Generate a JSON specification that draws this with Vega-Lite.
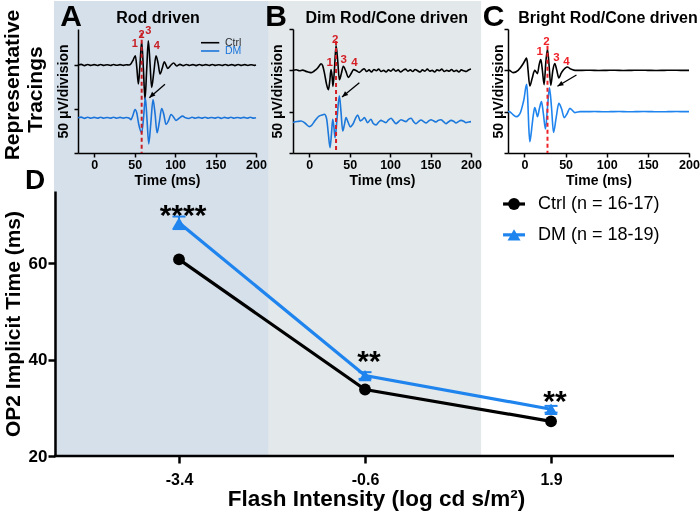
{
 "$schema": "https://vega.github.io/schema/vega-lite/v6.json",
 "background": "white",
 "padding": 0,
 "bounds": "flush",
 "spacing": 162,
 "config": {
  "view": {"stroke": null},
  "font": "Liberation Sans",
  "axis": {"grid": false, "zindex": 1, "domainColor": "#000000", "tickColor": "#000000", "labelColor": "#000000", "titleColor": "#000000", "labelFontWeight": "bold", "titleFontWeight": "bold", "labelFlush": false, "labelOverlap": false}
 },
 "datasets": {
  "ta": [
   {"s":"Ctrl","t":-20,"v":100},{"s":"Ctrl","t":-16,"v":100.8},{"s":"Ctrl","t":-12,"v":99.4},{"s":"Ctrl","t":-8,"v":100.6},{"s":"Ctrl","t":-4,"v":99.6},{"s":"Ctrl","t":0,"v":100.5},{"s":"Ctrl","t":4,"v":99.5},{"s":"Ctrl","t":8,"v":100.7},{"s":"Ctrl","t":12,"v":99.6},{"s":"Ctrl","t":16,"v":100.4},{"s":"Ctrl","t":20,"v":99.5},{"s":"Ctrl","t":24,"v":100.6},{"s":"Ctrl","t":28,"v":99.7},{"s":"Ctrl","t":32,"v":100.5},{"s":"Ctrl","t":36,"v":99.6},{"s":"Ctrl","t":40,"v":100.4},{"s":"Ctrl","t":43,"v":100},{"s":"Ctrl","t":45.5,"v":101.5},{"s":"Ctrl","t":48.3,"v":106},{"s":"Ctrl","t":50.9,"v":110.6},{"s":"Ctrl","t":52.8,"v":96},{"s":"Ctrl","t":54.6,"v":78.4},{"s":"Ctrl","t":56.6,"v":100},{"s":"Ctrl","t":58.7,"v":126.5},{"s":"Ctrl","t":60.8,"v":96},{"s":"Ctrl","t":62.8,"v":61.3},{"s":"Ctrl","t":64.9,"v":95},{"s":"Ctrl","t":66.9,"v":127.7},{"s":"Ctrl","t":69,"v":102},{"s":"Ctrl","t":71,"v":74.6},{"s":"Ctrl","t":73.7,"v":92},{"s":"Ctrl","t":76.4,"v":110.6},{"s":"Ctrl","t":79,"v":102},{"s":"Ctrl","t":81.4,"v":89.8},{"s":"Ctrl","t":84,"v":96},{"s":"Ctrl","t":86.7,"v":103.8},{"s":"Ctrl","t":88.8,"v":100},{"s":"Ctrl","t":90.8,"v":96.2},{"s":"Ctrl","t":94.5,"v":99.5},{"s":"Ctrl","t":98.2,"v":102.3},{"s":"Ctrl","t":102,"v":99},{"s":"Ctrl","t":106,"v":100.8},{"s":"Ctrl","t":110,"v":99.3},{"s":"Ctrl","t":114,"v":100.6},{"s":"Ctrl","t":118,"v":99.5},{"s":"Ctrl","t":122,"v":100.5},{"s":"Ctrl","t":126,"v":99.4},{"s":"Ctrl","t":130,"v":100.6},{"s":"Ctrl","t":134,"v":99.6},{"s":"Ctrl","t":138,"v":100.5},{"s":"Ctrl","t":142,"v":99.5},{"s":"Ctrl","t":146,"v":100.7},{"s":"Ctrl","t":150,"v":99.6},{"s":"Ctrl","t":154,"v":100.4},{"s":"Ctrl","t":158,"v":99.5},{"s":"Ctrl","t":162,"v":100.6},{"s":"Ctrl","t":166,"v":99.5},{"s":"Ctrl","t":170,"v":100.5},{"s":"Ctrl","t":174,"v":99.4},{"s":"Ctrl","t":178,"v":100.6},{"s":"Ctrl","t":182,"v":99.6},{"s":"Ctrl","t":186,"v":100.5},{"s":"Ctrl","t":190,"v":99.5},{"s":"Ctrl","t":194,"v":100.4},{"s":"Ctrl","t":198,"v":99.6},{"s":"Ctrl","t":200,"v":100},
   {"s":"DM","t":-20,"v":40},{"s":"DM","t":-16,"v":40.8},{"s":"DM","t":-12,"v":39.4},{"s":"DM","t":-8,"v":40.6},{"s":"DM","t":-4,"v":39.5},{"s":"DM","t":0,"v":40.5},{"s":"DM","t":4,"v":39.6},{"s":"DM","t":8,"v":40.7},{"s":"DM","t":12,"v":39.5},{"s":"DM","t":16,"v":40.4},{"s":"DM","t":20,"v":39.6},{"s":"DM","t":24,"v":40.6},{"s":"DM","t":28,"v":39.5},{"s":"DM","t":32,"v":40.5},{"s":"DM","t":36,"v":39.6},{"s":"DM","t":40,"v":40.4},{"s":"DM","t":43.5,"v":39.5},{"s":"DM","t":45.5,"v":38},{"s":"DM","t":47.6,"v":42},{"s":"DM","t":50.5,"v":49.5},{"s":"DM","t":52.5,"v":46},{"s":"DM","t":55,"v":33},{"s":"DM","t":58.7,"v":23},{"s":"DM","t":61,"v":40},{"s":"DM","t":63.2,"v":62.7},{"s":"DM","t":65.3,"v":38},{"s":"DM","t":67.4,"v":10.4},{"s":"DM","t":70,"v":34},{"s":"DM","t":72.7,"v":60.8},{"s":"DM","t":75.2,"v":45},{"s":"DM","t":77.7,"v":23},{"s":"DM","t":80.5,"v":35},{"s":"DM","t":83.4,"v":50.6},{"s":"DM","t":86,"v":44},{"s":"DM","t":88.8,"v":32.4},{"s":"DM","t":92,"v":37},{"s":"DM","t":95,"v":43.8},{"s":"DM","t":98,"v":41},{"s":"DM","t":101.1,"v":37},{"s":"DM","t":105,"v":39.5},{"s":"DM","t":109.3,"v":41.9},{"s":"DM","t":113,"v":40},{"s":"DM","t":117,"v":39.3},{"s":"DM","t":121,"v":40.6},{"s":"DM","t":125,"v":39.5},{"s":"DM","t":129,"v":40.5},{"s":"DM","t":133,"v":39.6},{"s":"DM","t":137,"v":40.6},{"s":"DM","t":141,"v":39.5},{"s":"DM","t":145,"v":40.4},{"s":"DM","t":149,"v":39.6},{"s":"DM","t":153,"v":40.6},{"s":"DM","t":157,"v":39.4},{"s":"DM","t":161,"v":40.5},{"s":"DM","t":165,"v":39.6},{"s":"DM","t":169,"v":40.6},{"s":"DM","t":173,"v":39.5},{"s":"DM","t":177,"v":40.4},{"s":"DM","t":181,"v":39.6},{"s":"DM","t":185,"v":40.5},{"s":"DM","t":189,"v":39.5},{"s":"DM","t":193,"v":40.6},{"s":"DM","t":197,"v":39.6},{"s":"DM","t":200,"v":40.2}
  ],
  "tb": [
   {"s":"Ctrl","t":-20,"v":200},{"s":"Ctrl","t":-16,"v":201.5},{"s":"Ctrl","t":-12,"v":199},{"s":"Ctrl","t":-8,"v":200.5},{"s":"Ctrl","t":-4,"v":197.5},{"s":"Ctrl","t":0,"v":195.5},{"s":"Ctrl","t":2.3,"v":194.4},{"s":"Ctrl","t":5,"v":196.5},{"s":"Ctrl","t":8,"v":201},{"s":"Ctrl","t":10.5,"v":205.6},{"s":"Ctrl","t":12.5,"v":211},{"s":"Ctrl","t":14.6,"v":216},{"s":"Ctrl","t":16.5,"v":212},{"s":"Ctrl","t":19,"v":192},{"s":"Ctrl","t":21.5,"v":166},{"s":"Ctrl","t":23.7,"v":153.2},{"s":"Ctrl","t":25.5,"v":175},{"s":"Ctrl","t":27,"v":201.6},{"s":"Ctrl","t":28.3,"v":186},{"s":"Ctrl","t":29.4,"v":161.3},{"s":"Ctrl","t":31.3,"v":205},{"s":"Ctrl","t":33.2,"v":259.7},{"s":"Ctrl","t":35.3,"v":222},{"s":"Ctrl","t":37.3,"v":177.4},{"s":"Ctrl","t":39.7,"v":192},{"s":"Ctrl","t":42.2,"v":209.7},{"s":"Ctrl","t":45.3,"v":198},{"s":"Ctrl","t":48.4,"v":183},{"s":"Ctrl","t":51.5,"v":191},{"s":"Ctrl","t":55,"v":201.6},{"s":"Ctrl","t":58.5,"v":199},{"s":"Ctrl","t":61.8,"v":195},{"s":"Ctrl","t":65,"v":200},{"s":"Ctrl","t":68,"v":204},{"s":"Ctrl","t":71,"v":197},{"s":"Ctrl","t":74,"v":201},{"s":"Ctrl","t":77,"v":196},{"s":"Ctrl","t":80,"v":202},{"s":"Ctrl","t":83,"v":199},{"s":"Ctrl","t":86,"v":203},{"s":"Ctrl","t":89,"v":197},{"s":"Ctrl","t":92,"v":200},{"s":"Ctrl","t":95,"v":196},{"s":"Ctrl","t":98,"v":201},{"s":"Ctrl","t":101,"v":198},{"s":"Ctrl","t":104,"v":203},{"s":"Ctrl","t":107,"v":198},{"s":"Ctrl","t":110,"v":201},{"s":"Ctrl","t":113,"v":196},{"s":"Ctrl","t":116,"v":200},{"s":"Ctrl","t":119,"v":203},{"s":"Ctrl","t":122,"v":198},{"s":"Ctrl","t":125,"v":201},{"s":"Ctrl","t":128,"v":197},{"s":"Ctrl","t":131,"v":202},{"s":"Ctrl","t":134,"v":199},{"s":"Ctrl","t":137,"v":196},{"s":"Ctrl","t":140,"v":201},{"s":"Ctrl","t":143,"v":198},{"s":"Ctrl","t":146,"v":203},{"s":"Ctrl","t":149,"v":198},{"s":"Ctrl","t":152,"v":200},{"s":"Ctrl","t":155,"v":196},{"s":"Ctrl","t":158,"v":201},{"s":"Ctrl","t":161,"v":199},{"s":"Ctrl","t":164,"v":203},{"s":"Ctrl","t":167,"v":197},{"s":"Ctrl","t":170,"v":200},{"s":"Ctrl","t":173,"v":198},{"s":"Ctrl","t":176,"v":202},{"s":"Ctrl","t":179,"v":197},{"s":"Ctrl","t":182,"v":200},{"s":"Ctrl","t":185,"v":196},{"s":"Ctrl","t":188,"v":201},{"s":"Ctrl","t":191,"v":199},{"s":"Ctrl","t":194,"v":197},{"s":"Ctrl","t":197,"v":201},{"s":"Ctrl","t":200,"v":203},
   {"s":"DM","t":-20,"v":74},{"s":"DM","t":-15,"v":76},{"s":"DM","t":-10,"v":77.6},{"s":"DM","t":-5,"v":72},{"s":"DM","t":0.2,"v":63.9},{"s":"DM","t":3,"v":67},{"s":"DM","t":6.4,"v":76},{"s":"DM","t":9,"v":83},{"s":"DM","t":12.6,"v":89.7},{"s":"DM","t":16,"v":92},{"s":"DM","t":18.8,"v":93.7},{"s":"DM","t":20.5,"v":90},{"s":"DM","t":21.7,"v":81.6},{"s":"DM","t":23.5,"v":50},{"s":"DM","t":25.8,"v":13.1},{"s":"DM","t":27.5,"v":45},{"s":"DM","t":29.1,"v":81.6},{"s":"DM","t":30.6,"v":62},{"s":"DM","t":32,"v":37.3},{"s":"DM","t":34.5,"v":85},{"s":"DM","t":37.3,"v":138.1},{"s":"DM","t":39.3,"v":100},{"s":"DM","t":41.4,"v":53.4},{"s":"DM","t":43.5,"v":68},{"s":"DM","t":45.5,"v":85.7},{"s":"DM","t":48,"v":75},{"s":"DM","t":50.9,"v":63.1},{"s":"DM","t":53,"v":67},{"s":"DM","t":55,"v":73.6},{"s":"DM","t":57.5,"v":85},{"s":"DM","t":60,"v":92.1},{"s":"DM","t":63.2,"v":77.6},{"s":"DM","t":65.5,"v":80},{"s":"DM","t":68.2,"v":85.7},{"s":"DM","t":72.3,"v":73.6},{"s":"DM","t":76.4,"v":81.6},{"s":"DM","t":79,"v":72},{"s":"DM","t":82.6,"v":68},{"s":"DM","t":86,"v":75},{"s":"DM","t":88.8,"v":79},{"s":"DM","t":92,"v":76},{"s":"DM","t":95,"v":73.6},{"s":"DM","t":98,"v":80},{"s":"DM","t":101.2,"v":84},{"s":"DM","t":104,"v":78},{"s":"DM","t":107.3,"v":71},{"s":"DM","t":110,"v":75},{"s":"DM","t":113.5,"v":80.6},{"s":"DM","t":116.5,"v":78},{"s":"DM","t":119.7,"v":76},{"s":"DM","t":123,"v":82},{"s":"DM","t":125.9,"v":84},{"s":"DM","t":129,"v":76},{"s":"DM","t":132,"v":71},{"s":"DM","t":135,"v":76},{"s":"DM","t":138.2,"v":80},{"s":"DM","t":141.5,"v":76},{"s":"DM","t":144.4,"v":72.6},{"s":"DM","t":147.5,"v":77},{"s":"DM","t":150.6,"v":80.6},{"s":"DM","t":153.5,"v":78},{"s":"DM","t":156.7,"v":75},{"s":"DM","t":159.5,"v":79},{"s":"DM","t":162.9,"v":80.6},{"s":"DM","t":166,"v":76},{"s":"DM","t":169.1,"v":71},{"s":"DM","t":172,"v":75},{"s":"DM","t":175.3,"v":79},{"s":"DM","t":178.5,"v":77},{"s":"DM","t":181.5,"v":72.6},{"s":"DM","t":184.5,"v":76},{"s":"DM","t":187.6,"v":79},{"s":"DM","t":191,"v":77},{"s":"DM","t":193.8,"v":73.6},{"s":"DM","t":197,"v":75},{"s":"DM","t":200,"v":76}
  ],
  "tc": [
   {"s":"Ctrl","t":-20,"v":400},{"s":"Ctrl","t":-18.5,"v":400},{"s":"Ctrl","t":-13.8,"v":388.7},{"s":"Ctrl","t":-7.7,"v":400},{"s":"Ctrl","t":-1.6,"v":432},{"s":"Ctrl","t":1,"v":450},{"s":"Ctrl","t":2.4,"v":460},{"s":"Ctrl","t":3.5,"v":440},{"s":"Ctrl","t":4.4,"v":400},{"s":"Ctrl","t":6.5,"v":324},{"s":"Ctrl","t":9.3,"v":360},{"s":"Ctrl","t":12.5,"v":400},{"s":"Ctrl","t":15.8,"v":384},{"s":"Ctrl","t":18,"v":430},{"s":"Ctrl","t":19.9,"v":451.6},{"s":"Ctrl","t":21.8,"v":400},{"s":"Ctrl","t":23.9,"v":330.6},{"s":"Ctrl","t":26,"v":440},{"s":"Ctrl","t":28,"v":501.6},{"s":"Ctrl","t":30,"v":420},{"s":"Ctrl","t":32,"v":327.4},{"s":"Ctrl","t":34.5,"v":400},{"s":"Ctrl","t":36.9,"v":432.3},{"s":"Ctrl","t":39.3,"v":400},{"s":"Ctrl","t":41.8,"v":363},{"s":"Ctrl","t":44.5,"v":385},{"s":"Ctrl","t":47,"v":400},{"s":"Ctrl","t":49.5,"v":411},{"s":"Ctrl","t":52.3,"v":416},{"s":"Ctrl","t":54.8,"v":410},{"s":"Ctrl","t":57.1,"v":404.8},{"s":"Ctrl","t":60,"v":401},{"s":"Ctrl","t":63.2,"v":400},{"s":"Ctrl","t":70,"v":400},{"s":"Ctrl","t":80,"v":400.5},{"s":"Ctrl","t":90,"v":399.5},{"s":"Ctrl","t":100,"v":400},{"s":"Ctrl","t":110,"v":400.5},{"s":"Ctrl","t":120,"v":399.5},{"s":"Ctrl","t":130,"v":400},{"s":"Ctrl","t":140,"v":400.5},{"s":"Ctrl","t":150,"v":400},{"s":"Ctrl","t":160,"v":399.5},{"s":"Ctrl","t":170,"v":400},{"s":"Ctrl","t":180,"v":400.5},{"s":"Ctrl","t":190,"v":400},{"s":"Ctrl","t":200,"v":400},
   {"s":"DM","t":-20,"v":200},{"s":"DM","t":-18.5,"v":200},{"s":"DM","t":-14,"v":186},{"s":"DM","t":-9.7,"v":175.8},{"s":"DM","t":-7,"v":182},{"s":"DM","t":-4.5,"v":200},{"s":"DM","t":-2.5,"v":228},{"s":"DM","t":-0.4,"v":264.5},{"s":"DM","t":1.5,"v":315},{"s":"DM","t":2.8,"v":332},{"s":"DM","t":4,"v":260},{"s":"DM","t":5.2,"v":130},{"s":"DM","t":6.5,"v":54.8},{"s":"DM","t":8,"v":90},{"s":"DM","t":9.3,"v":135.5},{"s":"DM","t":11,"v":190},{"s":"DM","t":12.5,"v":219.4},{"s":"DM","t":14.2,"v":200},{"s":"DM","t":15.8,"v":175.8},{"s":"DM","t":18.2,"v":215},{"s":"DM","t":20.7,"v":248.4},{"s":"DM","t":23,"v":190},{"s":"DM","t":25.5,"v":116.1},{"s":"DM","t":28,"v":220},{"s":"DM","t":30.4,"v":316},{"s":"DM","t":32.9,"v":220},{"s":"DM","t":35.3,"v":100},{"s":"DM","t":38.5,"v":170},{"s":"DM","t":41.8,"v":240.3},{"s":"DM","t":45,"v":215},{"s":"DM","t":48.3,"v":171},{"s":"DM","t":51.8,"v":190},{"s":"DM","t":55.2,"v":216.1},{"s":"DM","t":58.2,"v":206},{"s":"DM","t":61.3,"v":195.2},{"s":"DM","t":64.5,"v":198},{"s":"DM","t":67.4,"v":200},{"s":"DM","t":75,"v":200},{"s":"DM","t":85,"v":200.5},{"s":"DM","t":95,"v":199.5},{"s":"DM","t":105,"v":200},{"s":"DM","t":115,"v":200.5},{"s":"DM","t":125,"v":199.5},{"s":"DM","t":135,"v":200},{"s":"DM","t":145,"v":200.5},{"s":"DM","t":155,"v":200},{"s":"DM","t":165,"v":199.5},{"s":"DM","t":175,"v":200},{"s":"DM","t":185,"v":200.5},{"s":"DM","t":195,"v":200},{"s":"DM","t":200,"v":200}
  ],
  "la": [{"n":"1","t":50.1,"v":123.6},{"n":"2","t":58.7,"v":134.2},{"n":"3","t":66.9,"v":138.7},{"n":"4","t":77.5,"v":121.7}],
  "lb": [{"n":"1","t":25.3,"v":218.5},{"n":"2","t":32.3,"v":273.4},{"n":"3","t":42.6,"v":224.2},{"n":"4","t":55.8,"v":218.5}],
  "lc": [{"n":"1","t":18.6,"v":487},{"n":"2","t":26.7,"v":538.7},{"n":"3","t":38.9,"v":458},{"n":"4","t":51,"v":442}],
  "dd": [
   {"g":"Ctrl","i":0,"m":60.8,"lo":60.1,"hi":61.5,"sig":"","sy":60},
   {"g":"Ctrl","i":1,"m":33.8,"lo":33.2,"hi":34.4,"sig":"","sy":33},
   {"g":"Ctrl","i":2,"m":27.2,"lo":26.7,"hi":27.7,"sig":"","sy":27},
   {"g":"DM","i":0,"m":68.4,"lo":67.1,"hi":69.7,"sig":"****","sy":67.9},
   {"g":"DM","i":1,"m":36.7,"lo":36.0,"hi":37.4,"sig":"**","sy":37.6},
   {"g":"DM","i":2,"m":29.7,"lo":29.0,"hi":30.4,"sig":"**","sy":29.3}
  ],
  "lg": [{"g":"Ctrl","lab":"Ctrl (n = 16-17)","ly":72.3},{"g":"DM","lab":"DM (n = 18-19)","ly":65.9}]
 },
 "vconcat": [
  {
   "bounds": "flush",
   "spacing": 37,
   "hconcat": [
    {
     "width": 178, "height": 124,
     "layer": [
      {"data": {"name": "ta"}, "mark": {"type": "line", "interpolate": "monotone", "strokeWidth": 1.6}, "encoding": {
        "x": {"field": "t", "type": "quantitative", "scale": {"domain": [-20, 200], "nice": false, "zero": false}, "axis": {"title": "Time (ms)", "values": [0,25,50,75,100,125,150,175,200], "labelExpr": "datum.value % 50 === 0 ? datum.label : ''", "labelFontSize": 12.5, "titleFontSize": 14, "tickSize": 4, "tickWidth": 1.5, "domainWidth": 1.5, "labelPadding": 1, "titlePadding": 3}},
        "y": {"field": "v", "type": "quantitative", "scale": {"domain": [0, 141], "nice": false, "zero": false}, "axis": {"title": "50 μV/division", "values": [0, 50, 100], "labels": false, "tickSize": 4, "tickWidth": 1.5, "domainWidth": 1.5, "titleFontSize": 14, "titlePadding": 3}},
        "color": {"field": "s", "type": "nominal", "scale": {"domain": ["Ctrl", "DM"], "range": ["#000000", "#1f84ee"]}, "legend": null}}},
      {"data": {"values": [{}]}, "mark": {"type": "rule", "color": "#ee2229", "strokeWidth": 2, "strokeDash": [4, 3]}, "encoding": {"x": {"datum": 58.7, "type": "quantitative"}, "y": {"datum": 136.8, "type": "quantitative"}, "y2": {"datum": 0}}},
      {"data": {"name": "la"}, "mark": {"type": "text", "color": "#ee2229", "fontSize": 11, "fontWeight": "bold", "align": "center", "baseline": "middle"}, "encoding": {"x": {"field": "t", "type": "quantitative"}, "y": {"field": "v", "type": "quantitative"}, "text": {"field": "n"}}},
      {"data": {"values": [{}]}, "mark": {"type": "rule", "color": "#000000", "strokeWidth": 1.3}, "encoding": {"x": {"datum": 87.5, "type": "quantitative"}, "y": {"datum": 78.1, "type": "quantitative"}, "x2": {"datum": 68.2}, "y2": {"datum": 62.9}}},
      {"data": {"values": [{}]}, "mark": {"type": "point", "shape": "M0,0L0.7,1.7L-0.7,1.7Z", "angle": 227, "filled": true, "color": "#000000", "opacity": 1, "size": 50}, "encoding": {"x": {"datum": 68.2, "type": "quantitative"}, "y": {"datum": 62.9, "type": "quantitative"}}},
      {"data": {"values": [{}]}, "mark": {"type": "rule", "color": "#000000", "strokeWidth": 1.6}, "encoding": {"x": {"datum": 132, "type": "quantitative"}, "x2": {"datum": 154.6}, "y": {"datum": 125.4, "type": "quantitative"}}},
      {"data": {"values": [{}]}, "mark": {"type": "rule", "color": "#1f84ee", "strokeWidth": 1.6}, "encoding": {"x": {"datum": 132, "type": "quantitative"}, "x2": {"datum": 154.6}, "y": {"datum": 116, "type": "quantitative"}}},
      {"data": {"values": [{}]}, "mark": {"type": "text", "text": "Ctrl", "color": "#333333", "fontSize": 10.5, "align": "left", "baseline": "middle"}, "encoding": {"x": {"datum": 161.7, "type": "quantitative"}, "y": {"datum": 125.4, "type": "quantitative"}}},
      {"data": {"values": [{}]}, "mark": {"type": "text", "text": "DM", "color": "#1f84ee", "fontSize": 10.5, "align": "left", "baseline": "middle"}, "encoding": {"x": {"datum": 161.7, "type": "quantitative"}, "y": {"datum": 116, "type": "quantitative"}}},
      {"data": {"values": [{}]}, "mark": {"type": "text", "text": "Representative", "angle": 270, "fontSize": 21, "fontWeight": "bold", "align": "center", "baseline": "middle", "color": "#000000"}, "encoding": {"x": {"datum": -100.3, "type": "quantitative"}, "y": {"datum": 77.3, "type": "quantitative"}}},
      {"data": {"values": [{}]}, "mark": {"type": "text", "text": "Tracings", "angle": 270, "fontSize": 21, "fontWeight": "bold", "align": "center", "baseline": "middle", "color": "#000000"}, "encoding": {"x": {"datum": -71.9, "type": "quantitative"}, "y": {"datum": 72.2, "type": "quantitative"}}},
      {"data": {"values": [{}]}, "mark": {"type": "text", "text": "A", "fontSize": 30, "fontWeight": "bold", "align": "center", "baseline": "alphabetic", "color": "#000000"}, "encoding": {"x": {"datum": -28.7, "type": "quantitative"}, "y": {"datum": 144.4, "type": "quantitative"}}},
      {"data": {"values": [{}]}, "mark": {"type": "text", "text": "Rod driven", "fontSize": 16, "fontWeight": "bold", "align": "center", "baseline": "alphabetic", "color": "#000000"}, "encoding": {"x": {"datum": 78.9, "type": "quantitative"}, "y": {"datum": 147.8, "type": "quantitative"}}}
     ]
    },
    {
     "width": 178, "height": 124,
     "layer": [
      {"data": {"name": "tb"}, "mark": {"type": "line", "interpolate": "monotone", "strokeWidth": 1.6}, "encoding": {
        "x": {"field": "t", "type": "quantitative", "scale": {"domain": [-20, 200], "nice": false, "zero": false}, "axis": {"title": "Time (ms)", "values": [0,25,50,75,100,125,150,175,200], "labelExpr": "datum.value % 50 === 0 ? datum.label : ''", "labelFontSize": 12.5, "titleFontSize": 14, "tickSize": 4, "tickWidth": 1.5, "domainWidth": 1.5, "labelPadding": 1, "titlePadding": 3}},
        "y": {"field": "v", "type": "quantitative", "scale": {"domain": [0, 300], "nice": false, "zero": false}, "axis": {"title": "50 μV/division", "values": [0, 50, 100, 150, 200, 250, 300], "labels": false, "tickSize": 4, "tickWidth": 1.5, "domainWidth": 1.5, "titleFontSize": 14, "titlePadding": 4}},
        "color": {"field": "s", "type": "nominal", "scale": {"domain": ["Ctrl", "DM"], "range": ["#000000", "#1f84ee"]}, "legend": null}}},
      {"data": {"values": [{}]}, "mark": {"type": "rule", "color": "#ee2229", "strokeWidth": 2, "strokeDash": [4, 3]}, "encoding": {"x": {"datum": 33.2, "type": "quantitative"}, "y": {"datum": 271, "type": "quantitative"}, "y2": {"datum": 0}}},
      {"data": {"name": "lb"}, "mark": {"type": "text", "color": "#ee2229", "fontSize": 11.5, "fontWeight": "bold", "align": "center", "baseline": "middle"}, "encoding": {"x": {"field": "t", "type": "quantitative"}, "y": {"field": "v", "type": "quantitative"}, "text": {"field": "n"}}},
      {"data": {"values": [{}]}, "mark": {"type": "rule", "color": "#000000", "strokeWidth": 1.3}, "encoding": {"x": {"datum": 62, "type": "quantitative"}, "y": {"datum": 170.1, "type": "quantitative"}, "x2": {"datum": 40.6}, "y2": {"datum": 135.5}}},
      {"data": {"values": [{}]}, "mark": {"type": "point", "shape": "M0,0L0.7,1.7L-0.7,1.7Z", "angle": 230, "filled": true, "color": "#000000", "opacity": 1, "size": 50}, "encoding": {"x": {"datum": 40.6, "type": "quantitative"}, "y": {"datum": 135.5, "type": "quantitative"}}},
      {"data": {"values": [{}]}, "mark": {"type": "text", "text": "B", "fontSize": 30, "fontWeight": "bold", "align": "center", "baseline": "alphabetic", "color": "#000000"}, "encoding": {"x": {"datum": -41, "type": "quantitative"}, "y": {"datum": 307.3, "type": "quantitative"}}},
      {"data": {"values": [{}]}, "mark": {"type": "text", "text": "Dim Rod/Cone driven", "fontSize": 16, "fontWeight": "bold", "align": "center", "baseline": "alphabetic", "color": "#000000"}, "encoding": {"x": {"datum": 95.9, "type": "quantitative"}, "y": {"datum": 314.5, "type": "quantitative"}}}
     ]
    },
    {
     "width": 181, "height": 124,
     "layer": [
      {"data": {"name": "tc"}, "mark": {"type": "line", "interpolate": "monotone", "strokeWidth": 1.6}, "encoding": {
        "x": {"field": "t", "type": "quantitative", "scale": {"domain": [-20, 200], "nice": false, "zero": false}, "axis": {"title": "Time (ms)", "values": [0,25,50,75,100,125,150,175,200], "labelExpr": "datum.value % 50 === 0 ? datum.label : ''", "labelFontSize": 12.5, "titleFontSize": 14, "tickSize": 4, "tickWidth": 1.5, "domainWidth": 1.5, "labelPadding": 1, "titlePadding": 3}},
        "y": {"field": "v", "type": "quantitative", "scale": {"domain": [0, 600], "nice": false, "zero": false}, "axis": {"title": "50 μV/division", "values": [0, 50, 100, 150, 200, 250, 300, 350, 400, 450, 500, 550, 600], "labels": false, "tickSize": 4, "tickWidth": 1.5, "domainWidth": 1.5, "titleFontSize": 14, "titlePadding": -2}},
        "color": {"field": "s", "type": "nominal", "scale": {"domain": ["Ctrl", "DM"], "range": ["#000000", "#1f84ee"]}, "legend": null}}},
      {"data": {"values": [{}]}, "mark": {"type": "rule", "color": "#ee2229", "strokeWidth": 2, "strokeDash": [4, 3]}, "encoding": {"x": {"datum": 28, "type": "quantitative"}, "y": {"datum": 519, "type": "quantitative"}, "y2": {"datum": 0}}},
      {"data": {"name": "lc"}, "mark": {"type": "text", "color": "#ee2229", "fontSize": 11.5, "fontWeight": "bold", "align": "center", "baseline": "middle"}, "encoding": {"x": {"field": "t", "type": "quantitative"}, "y": {"field": "v", "type": "quantitative"}, "text": {"field": "n"}}},
      {"data": {"values": [{}]}, "mark": {"type": "rule", "color": "#000000", "strokeWidth": 1.3}, "encoding": {"x": {"datum": 63.2, "type": "quantitative"}, "y": {"datum": 377.5, "type": "quantitative"}, "x2": {"datum": 40.1}, "y2": {"datum": 322.8}}},
      {"data": {"values": [{}]}, "mark": {"type": "point", "shape": "M0,0L0.7,1.7L-0.7,1.7Z", "angle": 239, "filled": true, "color": "#000000", "opacity": 1, "size": 50}, "encoding": {"x": {"datum": 40.1, "type": "quantitative"}, "y": {"datum": 322.8, "type": "quantitative"}}},
      {"data": {"values": [{}]}, "mark": {"type": "text", "text": "C", "fontSize": 30, "fontWeight": "bold", "align": "center", "baseline": "alphabetic", "color": "#000000"}, "encoding": {"x": {"datum": -37.6, "type": "quantitative"}, "y": {"datum": 614.5, "type": "quantitative"}}},
      {"data": {"values": [{}]}, "mark": {"type": "text", "text": "Bright Rod/Cone driven", "fontSize": 16, "fontWeight": "bold", "align": "center", "baseline": "alphabetic", "color": "#000000"}, "encoding": {"x": {"datum": 101.5, "type": "quantitative"}, "y": {"datum": 629, "type": "quantitative"}}}
     ]
    }
   ]
  },
  {
   "width": 596, "height": 265,
   "layer": [
    {"data": {"values": [{}]}, "mark": {"type": "rect", "color": "transparent"}, "encoding": {"x": {"datum": -0.957, "type": "quantitative"}, "x2": {"datum": 2.807}, "y": {"datum": 8.37, "type": "quantitative"}, "y2": {"datum": 114.44}}},
    {"data": {"values": [{}]}, "mark": {"type": "rect", "color": "#d6e0ea", "blend": "multiply"}, "encoding": {"x": {"datum": -0.672, "type": "quantitative"}, "x2": {"datum": 0.48}, "y": {"datum": 20, "type": "quantitative"}, "y2": {"datum": 114.44}}},
    {"data": {"values": [{}]}, "mark": {"type": "rect", "color": "#e3e8ea", "blend": "multiply"}, "encoding": {"x": {"datum": 0.48, "type": "quantitative"}, "x2": {"datum": 1.624}, "y": {"datum": 20, "type": "quantitative"}, "y2": {"datum": 114.44}}},
    {"data": {"values": [{}]}, "mark": {"type": "rule", "color": "#000000", "strokeWidth": 2.5}, "encoding": {"x": {"datum": -0.672, "type": "quantitative"}, "x2": {"datum": 2.661}, "y": {"datum": 20, "type": "quantitative"}}},
    {"data": {"name": "dd"}, "mark": {"type": "line", "strokeWidth": 3.2}, "encoding": {
      "x": {"field": "i", "type": "quantitative", "scale": {"domain": [-0.543, 2.661], "nice": false, "zero": false}, "axis": {"title": "Flash Intensity (log cd s/m²)", "values": [0, 1, 2], "labelExpr": "datum.value == 0 ? '-3.4' : datum.value == 1 ? '-0.6' : '1.9'", "labelFontSize": 16, "titleFontSize": 22.5, "tickSize": 7, "tickWidth": 2.5, "domain": false, "labelPadding": 8, "titlePadding": 0}},
      "y": {"field": "m", "type": "quantitative", "scale": {"domain": [20, 75], "nice": false, "zero": false}, "axis": {"title": "OP2 Implicit Time (ms)", "values": [20, 40, 60], "labelFontSize": 17, "titleFontSize": 21, "tickSize": 7, "tickWidth": 2.5, "domainWidth": 2.5, "offset": 23, "labelPadding": 1, "titlePadding": 5}},
      "color": {"field": "g", "type": "nominal", "scale": {"domain": ["Ctrl", "DM"], "range": ["#000000", "#1f84ee"]}, "legend": null}}},
    {"data": {"name": "dd"}, "transform": [{"filter": "datum.g === 'DM'"}], "mark": {"type": "rule", "strokeWidth": 2}, "encoding": {"x": {"field": "i", "type": "quantitative"}, "y": {"field": "lo", "type": "quantitative"}, "y2": {"field": "hi"}, "color": {"field": "g", "type": "nominal", "legend": null}}},
    {"data": {"name": "dd"}, "transform": [{"filter": "datum.g === 'DM'"}], "mark": {"type": "point", "shape": "stroke", "filled": false, "strokeWidth": 2, "size": 169, "opacity": 1}, "encoding": {"x": {"field": "i", "type": "quantitative"}, "y": {"field": "hi", "type": "quantitative"}, "color": {"field": "g", "type": "nominal", "legend": null}}},
    {"data": {"name": "dd"}, "transform": [{"filter": "datum.g === 'DM'"}], "mark": {"type": "point", "shape": "stroke", "filled": false, "strokeWidth": 2, "size": 169, "opacity": 1}, "encoding": {"x": {"field": "i", "type": "quantitative"}, "y": {"field": "lo", "type": "quantitative"}, "color": {"field": "g", "type": "nominal", "legend": null}}},
    {"data": {"name": "dd"}, "mark": {"type": "point", "filled": true, "opacity": 1}, "encoding": {"x": {"field": "i", "type": "quantitative"}, "y": {"field": "m", "type": "quantitative"}, "color": {"field": "g", "type": "nominal", "legend": null}, "shape": {"field": "g", "type": "nominal", "scale": {"domain": ["Ctrl", "DM"], "range": ["circle", "triangle-up"]}, "legend": null}, "size": {"field": "g", "type": "ordinal", "scale": {"domain": ["Ctrl", "DM"], "range": [140, 170]}, "legend": null}}},
    {"data": {"name": "dd"}, "transform": [{"filter": "datum.g === 'DM'"}], "mark": {"type": "text", "fontSize": 30, "fontWeight": "bold", "align": "center", "baseline": "alphabetic", "dx": 4, "color": "#000000"}, "encoding": {"x": {"field": "i", "type": "quantitative"}, "y": {"field": "sy", "type": "quantitative"}, "text": {"field": "sig"}}},
    {"data": {"name": "lg"}, "mark": {"type": "rule", "strokeWidth": 3.2}, "encoding": {"x": {"datum": 1.742, "type": "quantitative"}, "x2": {"datum": 1.86}, "y": {"field": "ly", "type": "quantitative"}, "color": {"field": "g", "type": "nominal", "legend": null}}},
    {"data": {"name": "lg"}, "mark": {"type": "point", "filled": true, "opacity": 1}, "encoding": {"x": {"datum": 1.801, "type": "quantitative"}, "y": {"field": "ly", "type": "quantitative"}, "color": {"field": "g", "type": "nominal", "legend": null}, "shape": {"field": "g", "type": "nominal", "legend": null}, "size": {"field": "g", "type": "ordinal", "legend": null}}},
    {"data": {"name": "lg"}, "mark": {"type": "text", "fontSize": 18, "align": "left", "baseline": "middle", "color": "#000000"}, "encoding": {"x": {"datum": 1.93, "type": "quantitative"}, "y": {"field": "ly", "type": "quantitative"}, "text": {"field": "lab"}}},
    {"data": {"values": [{}]}, "mark": {"type": "text", "text": "D", "fontSize": 28, "fontWeight": "bold", "align": "center", "baseline": "alphabetic", "color": "#000000"}, "encoding": {"x": {"datum": -0.774, "type": "quantitative"}, "y": {"datum": 75.4, "type": "quantitative"}}}
   ]
  }
 ]
}
